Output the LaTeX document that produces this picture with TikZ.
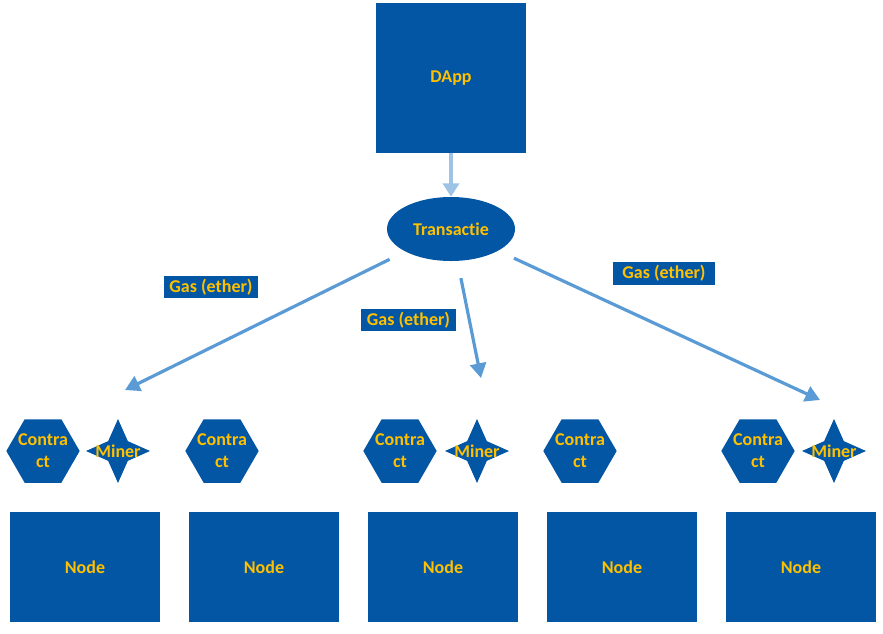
\documentclass[tikz,border=0pt]{standalone}
\usepackage{fontspec}
\setmainfont[Ligatures=NoCommon]{Carlito}
\usepackage{xcolor}
\usetikzlibrary{arrows.meta,shapes.geometric}
\definecolor{dappblue}{HTML}{0356A4}
\definecolor{dappgold}{HTML}{FFC000}
\definecolor{lightarrow}{HTML}{9DC3E6}
\definecolor{midarrow}{HTML}{5B9BD5}
\tikzset{
	blue shape/.style={fill=dappblue, draw=none, text=dappgold, inner sep=0pt,
			font=\bfseries\fontsize{13.5}{16.5}\selectfont},
	ethnode/.style={blue shape, rectangle, minimum width=112.5pt, minimum height=82.5pt},
	contract/.style={blue shape, regular polygon, regular polygon sides=6, minimum size=55pt},
	miner/.style={blue shape, star, star points=4, star point ratio=2.3, minimum size=48pt},
	gaslabel/.style={blue shape, rectangle, minimum width=71pt, minimum height=17pt},
	gasarrow/.style={midarrow, line width=2.4pt, shorten <=13pt,
			-{Triangle[length=11pt, width=12pt]}}
}

\begin{document}
\begin{tikzpicture}[x=0.75pt, y=-0.75pt]
	\useasboundingbox (0,0) rectangle (883,633);
	% top of the chain
	\node[blue shape, rectangle, minimum width=113pt, minimum height=112.5pt] (dapp) at (451,78) {DApp};
	\node[blue shape, ellipse, minimum width=96pt, minimum height=48pt] (tx) at (451,229) {Transactie};
	\draw[lightarrow, line width=3pt, -{Triangle[length=10pt, width=12pt]}] (dapp) -- (tx);

	% contracts and miners
	\node[contract, label={[text=dappgold, font=\bfseries\fontsize{13.5}{16.5}\selectfont, align=center]center:Contra\\ct}] (con1) at (43,451) {};
	\node[miner, label={[text=dappgold, font=\bfseries\fontsize{13.5}{16.5}\selectfont]center:Miner}] (miner1) at (118,451) {};
	\node[contract, label={[text=dappgold, font=\bfseries\fontsize{13.5}{16.5}\selectfont, align=center]center:Contra\\ct}] (con2) at (222,451) {};
	\node[contract, label={[text=dappgold, font=\bfseries\fontsize{13.5}{16.5}\selectfont, align=center]center:Contra\\ct}] (con3) at (400,451) {};
	\node[miner, label={[text=dappgold, font=\bfseries\fontsize{13.5}{16.5}\selectfont]center:Miner}] (miner2) at (477,451) {};
	\node[contract, label={[text=dappgold, font=\bfseries\fontsize{13.5}{16.5}\selectfont, align=center]center:Contra\\ct}] (con4) at (580,451) {};
	\node[contract, label={[text=dappgold, font=\bfseries\fontsize{13.5}{16.5}\selectfont, align=center]center:Contra\\ct}] (con5) at (758,451) {};
	\node[miner, label={[text=dappgold, font=\bfseries\fontsize{13.5}{16.5}\selectfont]center:Miner}] (miner3) at (834,451) {};

	% nodes
	\node[ethnode] (node1) at (85,567) {Node};
	\node[ethnode] (node2) at (264,567) {Node};
	\node[ethnode] (node3) at (443,567) {Node};
	\node[ethnode] (node4) at (622,567) {Node};
	\node[ethnode] (node5) at (801,567) {Node};

	% gas paid to the miners
	\coordinate (tip1) at (125,390);
	\coordinate (tip2) at (481,378);
	\coordinate (tip3) at (820,400);
	\draw[gasarrow] (tx) -- (tip1);
	\draw[gasarrow] (tx) -- (tip2);
	\draw[gasarrow] (tx) -- (tip3);
	\node[gaslabel] (gas1) at (211,287) {Gas (ether)};
	\node[gaslabel] (gas2) at (408.5,320) {Gas (ether)};
	\node[gaslabel, minimum width=76pt] (gas3) at (664,273.5) {Gas (ether)};
\end{tikzpicture}
\end{document}
